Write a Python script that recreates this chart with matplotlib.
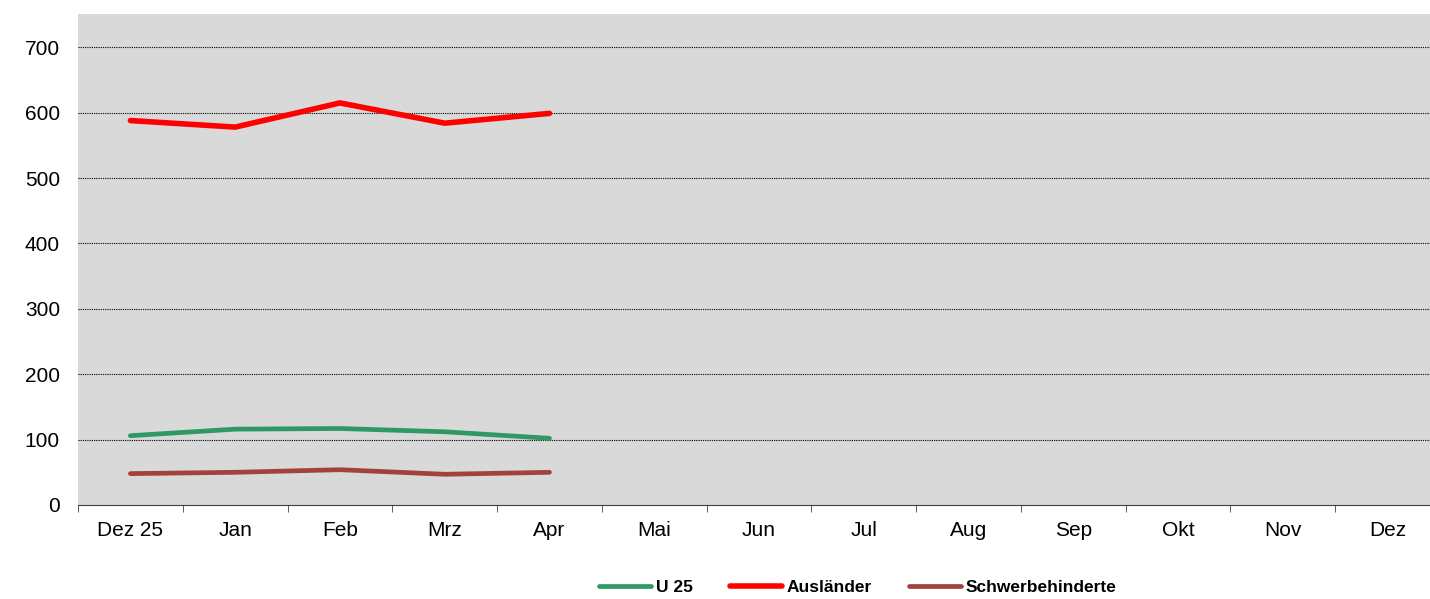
import numpy as np
import matplotlib
matplotlib.use('Agg')
import matplotlib.pyplot as plt

plt.rcParams['font.family'] = ['Liberation Sans', 'DejaVu Sans']

# Daten
monate = ['Dez 25', 'Jan', 'Feb', 'Mrz', 'Apr', 'Mai', 'Jun', 'Jul', 'Aug', 'Sep', 'Okt', 'Nov', 'Dez']
u25 = [106, 116, 117, 112, 102]
auslaender = [588, 578, 615, 584, 599]
schwerbehinderte = [48, 50, 54, 47, 50]
y_ticks = [0, 100, 200, 300, 400, 500, 600, 700]

fig = plt.figure(figsize=(14.3, 5.99), dpi=100)
# Achsenbereich (rechts leicht abgeschnitten wie im Original)
ax = fig.add_axes([78/1430, 1-505/599, (1440-78)/1430, (505-14)/599])
ax.set_facecolor('#d9d9d9')

x = np.arange(len(monate))
ax.plot(x[:len(u25)], u25, color='#2e9963', linewidth=3.4, solid_capstyle='round', label='U 25')
ax.plot(x[:len(auslaender)], auslaender, color='#ff0000', linewidth=4.0, solid_capstyle='round', label='Ausländer')
ax.plot(x[:len(schwerbehinderte)], schwerbehinderte, color='#a5413d', linewidth=3.4, solid_capstyle='round', label='Schwerbehinderte')

ax.set_xlim(-0.5, len(monate) - 0.5)
ax.set_ylim(0, 751)
ax.set_yticks(y_ticks)
ax.set_xticks(x)
ax.set_xticklabels(monate)
ax.set_xticks(np.arange(-0.5, len(monate), 1), minor=True)
ax.tick_params(axis='x', which='major', length=0, pad=11.5, labelsize=15)
ax.tick_params(axis='x', which='minor', length=5, direction='out', color='#404040')
ax.tick_params(axis='y', length=0, pad=13, labelsize=15)
for t in y_ticks[1:]:
    ax.axhline(t, color='#000000', linewidth=0.8, linestyle=(0, (1, 1)), zorder=0.5)

for s in ['top', 'right', 'left']:
    ax.spines[s].set_visible(False)
ax.spines['bottom'].set_color('#404040')

leg = fig.legend(loc='center', bbox_to_anchor=(0.6, 12/599), ncol=3, frameon=False,
                 prop={'weight': 'bold', 'size': 12.5}, handlelength=3.0, handletextpad=0.3,
                 columnspacing=2.1)

plt.savefig('out.png', dpi=100)
